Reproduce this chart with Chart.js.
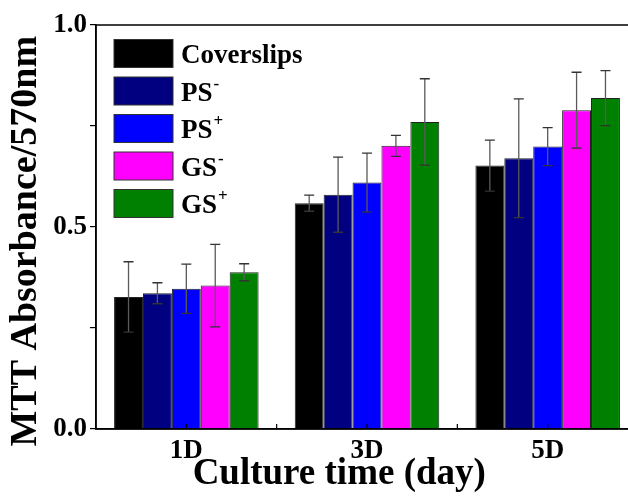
<!DOCTYPE html>
<html>
<head>
<meta charset="utf-8">
<script src="https://cdn.jsdelivr.net/npm/chart.js@4.4.1/dist/chart.umd.min.js"></script>
<style>
  html, body { margin: 0; padding: 0; background: #fff; overflow: hidden; width: 628px; height: 499px; }
  #wrap { width: 645px; height: 499px; }
</style>
</head>
<body>
<div id="wrap"><canvas id="c" width="645" height="499"></canvas></div>
<script>
// ---- data ----
const categories = ['1D', '3D', '5D'];
const seriesNames = ['Coverslips', 'PS⁻', 'PS⁺', 'GS⁻', 'GS⁺'];
const coverslips = [0.327, 0.559, 0.652];
const psMinus    = [0.336, 0.580, 0.670];
const psPlus     = [0.347, 0.610, 0.699];
const gsMinus    = [0.355, 0.701, 0.789];
const gsPlus     = [0.388, 0.760, 0.819];
const coverslipsErr = [0.087, 0.020, 0.063];
const psMinusErr    = [0.026, 0.093, 0.147];
const psPlusErr     = [0.061, 0.073, 0.047];
const gsMinusErr    = [0.102, 0.026, 0.094];
const gsPlusErr     = [0.021, 0.107, 0.068];
const yTicks = [0, 0.25, 0.5, 0.75, 1.0];
const yLabelled = ['0.0', '0.5', '1.0'];
const xTitle = 'Culture time (day)';
const yTitle = 'MTT Absorbance/570nm';

const seriesValues = [coverslips, psMinus, psPlus, gsMinus, gsPlus];
const seriesErrors = [coverslipsErr, psMinusErr, psPlusErr, gsMinusErr, gsPlusErr];
const seriesColors = ['#000000', '#000080', '#0000FF', '#FF00FF', '#008000'];

const FONT = "'Liberation Serif', 'Times New Roman', serif";
const NB = '\u00A0';

const errorBars = {
  id: 'errorBars',
  afterDatasetsDraw(chart) {
    const ctx = chart.ctx;
    const y = chart.scales.y;
    ctx.save();
    chart.data.datasets.forEach((ds, di) => {
      const meta = chart.getDatasetMeta(di);
      meta.data.forEach((bar, i) => {
        const v = ds.data[i], e = ds.errors[i];
        const yt = y.getPixelForValue(v + e);
        const yb = y.getPixelForValue(v - e);
        const x = bar.x;
        ctx.strokeStyle = '#5a5a5a';
        ctx.lineWidth = 1.3;
        ctx.beginPath();
        ctx.moveTo(x, yt); ctx.lineTo(x, yb);
        ctx.stroke();
        ctx.strokeStyle = '#333';
        ctx.beginPath();
        ctx.moveTo(x - 5, yt); ctx.lineTo(x + 5, yt);
        ctx.moveTo(x - 5, yb); ctx.lineTo(x + 5, yb);
        ctx.stroke();
      });
    });
    ctx.restore();
  }
};

const frameAndLegend = {
  id: 'frameAndLegend',
  afterDraw(chart) {
    const ctx = chart.ctx;
    const a = chart.chartArea;
    const xs = chart.scales.x;
    ctx.save();
    ctx.strokeStyle = '#000';
    ctx.lineWidth = 1.5;
    ctx.strokeRect(a.left, a.top, a.right - a.left, a.bottom - a.top);
    ctx.lineWidth = 1.2;
    ctx.beginPath();
    for (let i = 0; i < categories.length; i++) {
      const c = xs.getPixelForValue(i);
      ctx.moveTo(c, a.bottom); ctx.lineTo(c, a.bottom - 5);
      if (i > 0) {
        const m = (xs.getPixelForValue(i - 1) + c) / 2;
        ctx.moveTo(m, a.bottom); ctx.lineTo(m, a.bottom - 5);
      }
    }
    ctx.stroke();
    const bx = a.left + 18, bw = 59, bh = 28, rowH = 37.5, y0 = 53.5;
    chart.data.datasets.forEach((ds, i) => {
      const cy = y0 + i * rowH;
      ctx.fillStyle = ds.backgroundColor;
      ctx.fillRect(bx, cy - bh / 2, bw, bh);
      ctx.strokeStyle = '#333';
      ctx.lineWidth = 1;
      ctx.strokeRect(bx, cy - bh / 2, bw, bh);
      let label = ds.label, sup = '';
      if (label.endsWith('⁻')) { sup = '-'; label = label.slice(0, -1); }
      if (label.endsWith('⁺')) { sup = '+'; label = label.slice(0, -1); }
      ctx.fillStyle = '#000';
      ctx.font = 'bold 27px ' + FONT;
      ctx.textBaseline = 'alphabetic';
      ctx.textAlign = 'left';
      const tx = bx + bw + 8;
      const base = cy + 9.5;
      ctx.fillText(label, tx, base);
      if (sup) {
        const w = ctx.measureText(label).width;
        ctx.font = 'bold 17px ' + FONT;
        ctx.fillText(sup, tx + w + 1, base - 12);
      }
    });
    ctx.restore();
  }
};

new Chart(document.getElementById('c'), {
  type: 'bar',
  data: {
    labels: categories,
    datasets: seriesNames.map((n, i) => ({
      label: n,
      data: seriesValues[i],
      errors: seriesErrors[i],
      backgroundColor: seriesColors[i],
      borderColor: '#222',
      borderWidth: 1,
      categoryPercentage: 0.8,
      barPercentage: 1.0
    }))
  },
  options: {
    responsive: false,
    devicePixelRatio: 1,
    animation: false,
    layout: { padding: { top: 25, right: 7, bottom: 0, left: 0 } },
    plugins: { legend: { display: false }, tooltip: { enabled: false } },
    scales: {
      x: {
        afterFit: s => { s.height = 70; },
        grid: { display: false, drawTicks: false },
        border: { display: true, color: '#000', width: 1.5 },
        ticks: { color: '#000', font: { family: FONT, size: 27, weight: 'bold' }, padding: 6 },
        title: {
          display: true, text: xTitle + NB.repeat(6), color: '#000',
          font: { family: FONT, size: 37, weight: 'bold' }, padding: { top: 0, bottom: 2 }
        }
      },
      y: {
        min: 0, max: 1,
        afterFit: s => { s.width = 96; },
        afterBuildTicks: s => { s.ticks = yTicks.map(v => ({ value: v })); },
        grid: { display: true, drawOnChartArea: false, drawTicks: true, tickLength: 6, color: '#000', tickColor: '#000', lineWidth: 1.2 },
        border: { display: true, color: '#000', width: 1.5 },
        ticks: {
          color: '#000', padding: 3,
          font: { family: FONT, size: 27, weight: 'bold' },
          callback: v => { const s = Number(v).toFixed(1); return yLabelled.includes(s) && (v * 2) % 1 === 0 ? s : ''; }
        },
        title: {
          display: true, text: yTitle + NB.repeat(3), color: '#000',
          font: { family: FONT, size: 38, weight: 'bold' }, padding: { top: 3, bottom: 0 }
        }
      }
    }
  },
  plugins: [errorBars, frameAndLegend]
});
</script>
</body>
</html>
